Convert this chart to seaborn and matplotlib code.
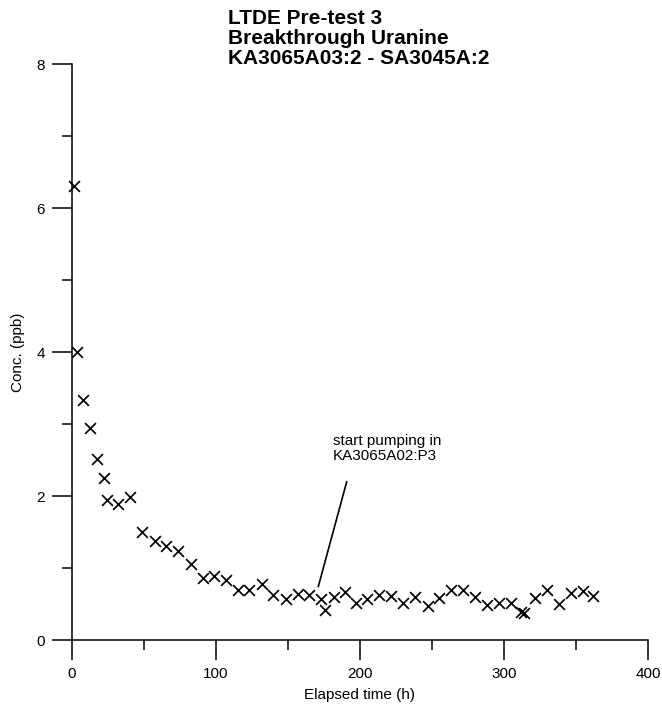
import matplotlib
matplotlib.use("Agg")
import matplotlib.pyplot as plt
from matplotlib.ticker import MultipleLocator
import seaborn as sns
import pandas as pd

# Uranine breakthrough measurements
elapsed_h = [1.4, 3.2, 7.4, 12.3, 17.4, 22.2, 24.1, 32.2, 40.5, 48.8,
             57.4, 65.5, 73.8, 82.4, 90.7, 98.6, 106.7, 115.3, 123.1, 131.7,
             139.8, 148.4, 156.7, 164.8, 173.1, 175.5, 181.9, 189.8, 197.0, 205.1,
             213.2, 221.5, 230.1, 238.2, 247.0, 255.0, 263.4, 271.8, 280.1, 288.4,
             296.5, 304.9, 311.6, 313.9, 321.8, 330.1, 338.4, 346.7, 354.9, 361.8]
conc_ppb = [6.31, 4.00, 3.34, 2.95, 2.51, 2.25, 1.94, 1.89, 1.99, 1.50,
            1.37, 1.31, 1.23, 1.05, 0.86, 0.89, 0.84, 0.69, 0.69, 0.78,
            0.625, 0.57, 0.64, 0.62, 0.57, 0.42, 0.60, 0.66, 0.51, 0.57,
            0.63, 0.61, 0.51, 0.60, 0.47, 0.58, 0.69, 0.69, 0.60, 0.49,
            0.52, 0.52, 0.39, 0.38, 0.58, 0.69, 0.50, 0.65, 0.68, 0.61]

title_lines = ["LTDE Pre-test 3", "Breakthrough Uranine", "KA3065A03:2 - SA3045A:2"]
note_text = "start pumping in\nKA3065A02:P3"
note_line_x = [171.0, 190.8]
note_line_y = [0.74, 2.20]

df = pd.DataFrame({"t": elapsed_h, "c": conc_ppb})

sns.set_theme(style="white")
plt.rcParams["font.family"] = ["Liberation Sans", "DejaVu Sans"]

W, H = 662, 706
fig = plt.figure(figsize=(W / 100, H / 100), dpi=100)
ax = fig.add_axes([72 / W, 1 - 640 / H, 576 / W, 576 / H])

sns.scatterplot(data=df, x="t", y="c", marker="x", s=60, color="black",
                linewidth=1.25, ax=ax, clip_on=False, zorder=3)

ax.plot(note_line_x, note_line_y, color="black", lw=1.2)
ax.text(181, 2.66, note_text, fontsize=11, ha="left", va="center",
        linespacing=1.05, color="black")

ax.set_xlim(0, 400)
ax.set_ylim(0, 8)
ax.xaxis.set_major_locator(MultipleLocator(100))
ax.xaxis.set_minor_locator(MultipleLocator(50))
ax.yaxis.set_major_locator(MultipleLocator(2))
ax.yaxis.set_minor_locator(MultipleLocator(1))

for side in ["top", "right"]:
    ax.spines[side].set_visible(False)
for side in ["left", "bottom"]:
    ax.spines[side].set_linewidth(1.1)
    ax.spines[side].set_color("black")

ax.tick_params(which="major", direction="out", length=14.5, width=1.1,
               color="black", labelsize=11, labelcolor="black", pad=5,
               bottom=True, left=True)
ax.tick_params(which="minor", direction="out", length=7.5, width=1.1,
               color="black", bottom=True, left=True)

ax.set_xlabel("Elapsed time (h)", fontsize=11, color="black")
ax.set_ylabel("Conc. (ppb)", fontsize=11, color="black")
ax.xaxis.set_label_coords(0.5, -55 / 576)
ax.yaxis.set_label_coords(-54 / 576, 0.5)
ax.xaxis.label.set_va("center")
ax.yaxis.label.set_va("center")
ax.grid(False)

fig.text(228 / W, 1 - 9 / H, "\n".join(title_lines), fontsize=15,
         fontweight="bold", ha="left", va="top", linespacing=1.06, color="black")

fig.savefig("out.png", dpi=100, facecolor="white")
